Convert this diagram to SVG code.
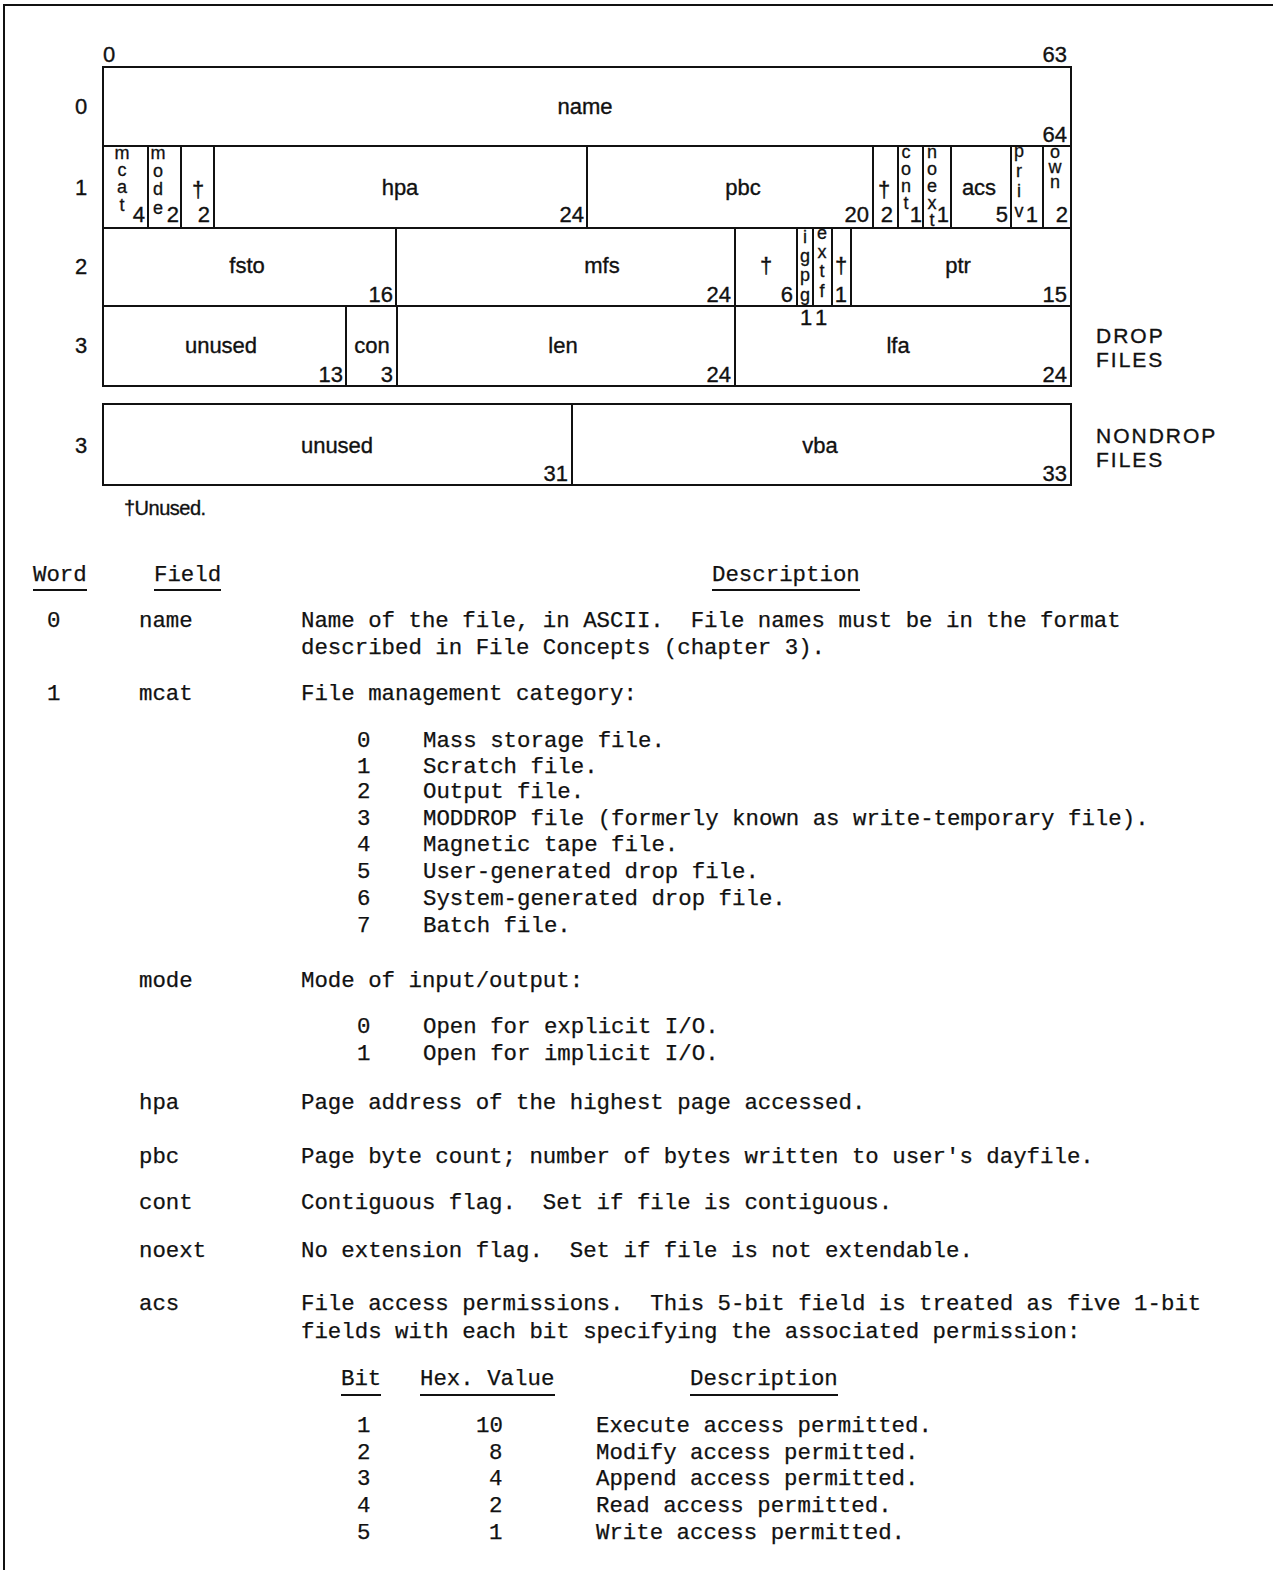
<svg xmlns="http://www.w3.org/2000/svg" width="1273" height="1570" viewBox="0 0 1273 1570">
<style>
.bx{fill:none;stroke:#111;stroke-width:2}
.ln{stroke:#111;stroke-width:2}
.s{font-family:"Liberation Sans",Arial,sans-serif;font-size:22px;fill:#111;stroke:#111;stroke-width:0.35}
.c{text-anchor:middle}
.e{text-anchor:end}
.vt{font-family:"Liberation Sans",Arial,sans-serif;font-size:18px;fill:#111;stroke:#111;stroke-width:0.3;writing-mode:vertical-rl;text-orientation:upright}
.m{font-family:"Liberation Mono","Courier New",monospace;font-size:22.4px;fill:#111;stroke:#111;stroke-width:0.25;white-space:pre}
.side{font-family:"Liberation Sans",Arial,sans-serif;font-size:21px;letter-spacing:2px;fill:#111;stroke:#111;stroke-width:0.35}
</style>
<rect width="1273" height="1570" fill="#fff"/>
<path class="ln" d="M1273 5H4V1570" fill="none"/>

<g id="bit-labels">
<text class="s" x="103" y="62">0</text>
<text class="s e" x="1067" y="62">63</text>
<text class="s" x="75" y="114">0</text>
<text class="s" x="75" y="195">1</text>
<text class="s" x="75" y="274">2</text>
<text class="s" x="75" y="353">3</text>
<text class="s" x="75" y="453">3</text>
</g>

<g id="word0">
<rect class="bx" x="103" y="67" width="968" height="79"/>
<text class="s c" x="585" y="114">name</text>
<text class="s e" x="1067" y="142">64</text>
</g>

<g id="word1">
<g id="f-mcat"><rect class="bx" x="103" y="146" width="45" height="82"/>
<text class="vt" x="122" y="142.7" style="letter-spacing:-2.7px">mcat</text>
<text class="s e" x="145" y="222">4</text></g>
<g id="f-mode"><rect class="bx" x="148" y="146" width="33" height="82"/>
<text class="vt" x="158" y="142.7" style="letter-spacing:-1.7px">mode</text>
<text class="s e" x="179" y="222">2</text></g>
<g id="f-u1"><rect class="bx" x="181" y="146" width="33" height="82"/>
<text class="s c" x="198" y="197">†</text><text class="s e" x="210" y="222">2</text></g>
<g id="f-hpa"><rect class="bx" x="214" y="146" width="373" height="82"/>
<text class="s c" x="400" y="195">hpa</text><text class="s e" x="584" y="222">24</text></g>
<g id="f-pbc"><rect class="bx" x="587" y="146" width="286" height="82"/>
<text class="s c" x="743" y="195">pbc</text><text class="s e" x="869" y="222">20</text></g>
<g id="f-u2"><rect class="bx" x="873" y="146" width="25" height="82"/>
<text class="s c" x="884" y="197">†</text><text class="s e" x="893" y="222">2</text></g>
<g id="f-cont"><rect class="bx" x="898" y="146" width="25" height="82"/>
<text class="vt" x="906" y="141.7" style="letter-spacing:-3px">cont</text>
<text class="s e" x="922" y="222">1</text></g>
<g id="f-noext"><rect class="bx" x="923" y="146" width="28" height="82"/>
<text class="vt" x="932" y="141.7" style="letter-spacing:-3px">noext</text>
<text class="s e" x="949" y="222">1</text></g>
<g id="f-acs"><rect class="bx" x="951" y="146" width="60" height="82"/>
<text class="s c" x="979" y="195">acs</text><text class="s e" x="1008" y="222">5</text></g>
<g id="f-priv"><rect class="bx" x="1011" y="146" width="32" height="82"/>
<text class="vt" x="1019" y="140.7" style="letter-spacing:0px">priv</text>
<text class="s e" x="1038" y="222">1</text></g>
<g id="f-own"><rect class="bx" x="1043" y="146" width="28" height="82"/>
<text class="vt" x="1055" y="141.7" style="letter-spacing:-5px">own</text>
<text class="s e" x="1068" y="222">2</text></g>
</g>

<g id="word2">
<g id="f-fsto"><rect class="bx" x="103" y="228" width="293" height="78"/>
<text class="s c" x="247" y="273">fsto</text><text class="s e" x="393" y="302">16</text></g>
<g id="f-mfs"><rect class="bx" x="396" y="228" width="339" height="78"/>
<text class="s c" x="602" y="273">mfs</text><text class="s e" x="731" y="302">24</text></g>
<g id="f-u3"><rect class="bx" x="735" y="228" width="62" height="78"/>
<text class="s c" x="766" y="273">†</text><text class="s e" x="793" y="302">6</text></g>
<g id="f-igpg"><rect class="bx" x="797" y="228" width="16" height="78"/>
<text class="vt" x="805" y="226.7" style="letter-spacing:-0.7px">igpg</text>
<text class="s c" x="806" y="325">1</text></g>
<g id="f-ext"><rect class="bx" x="813" y="228" width="19" height="78"/>
<text class="vt" x="822" y="222.7" style="letter-spacing:-0.7px">extf</text>
<text class="s c" x="821" y="325">1</text></g>
<g id="f-u4"><rect class="bx" x="832" y="228" width="19" height="78"/>
<text class="s c" x="841" y="273">†</text><text class="s e" x="847" y="302">1</text></g>
<g id="f-ptr"><rect class="bx" x="851" y="228" width="220" height="78"/>
<text class="s c" x="958" y="273">ptr</text><text class="s e" x="1067" y="302">15</text></g>
</g>

<g id="word3-drop">
<g id="f-unused"><rect class="bx" x="103" y="306" width="243" height="80"/>
<text class="s c" x="221" y="353">unused</text><text class="s e" x="343" y="382">13</text></g>
<g id="f-con"><rect class="bx" x="346" y="306" width="51" height="80"/>
<text class="s c" x="372" y="353">con</text><text class="s e" x="393" y="382">3</text></g>
<g id="f-len"><rect class="bx" x="397" y="306" width="338" height="80"/>
<text class="s c" x="563" y="353">len</text><text class="s e" x="731" y="382">24</text></g>
<g id="f-lfa"><rect class="bx" x="735" y="306" width="336" height="80"/>
<text class="s c" x="898" y="353">lfa</text><text class="s e" x="1067" y="382">24</text></g>
<text class="side" x="1096" y="343">DROP</text>
<text class="side" x="1096" y="367">FILES</text>
</g>

<g id="word3-nondrop">
<g id="f-unused2"><rect class="bx" x="103" y="404" width="469" height="81"/>
<text class="s c" x="337" y="453">unused</text><text class="s e" x="568" y="481">31</text></g>
<g id="f-vba"><rect class="bx" x="572" y="404" width="499" height="81"/>
<text class="s c" x="820" y="453">vba</text><text class="s e" x="1067" y="481">33</text></g>
<text class="side" x="1096" y="443">NONDROP</text>
<text class="side" x="1096" y="467">FILES</text>
</g>

<text class="s" x="124" y="515" style="font-size:20px;letter-spacing:-0.5px">†Unused.</text>

<g id="connectors"></g>

<g id="table">
<text class="m" x="33" y="581">Word</text>
<text class="m" x="154" y="581">Field</text>
<text class="m" x="712" y="581">Description</text>
<path class="ln" d="M33 590H87M154 590H221M712 590H860"/>

<text class="m" x="47" y="627">0</text>
<text class="m" x="139" y="627">name</text>
<text class="m" x="301" y="627">Name of the file, in ASCII.  File names must be in the format</text>
<text class="m" x="301" y="654">described in File Concepts (chapter 3).</text>

<text class="m" x="47" y="700">1</text>
<text class="m" x="139" y="700">mcat</text>
<text class="m" x="301" y="700">File management category:</text>
<text class="m" x="357" y="747">0</text><text class="m" x="423" y="747">Mass storage file.</text>
<text class="m" x="357" y="773">1</text><text class="m" x="423" y="773">Scratch file.</text>
<text class="m" x="357" y="798">2</text><text class="m" x="423" y="798">Output file.</text>
<text class="m" x="357" y="825">3</text><text class="m" x="423" y="825">MODDROP file (formerly known as write-temporary file).</text>
<text class="m" x="357" y="851">4</text><text class="m" x="423" y="851">Magnetic tape file.</text>
<text class="m" x="357" y="878">5</text><text class="m" x="423" y="878">User-generated drop file.</text>
<text class="m" x="357" y="905">6</text><text class="m" x="423" y="905">System-generated drop file.</text>
<text class="m" x="357" y="932">7</text><text class="m" x="423" y="932">Batch file.</text>

<text class="m" x="139" y="987">mode</text>
<text class="m" x="301" y="987">Mode of input/output:</text>
<text class="m" x="357" y="1033">0</text><text class="m" x="423" y="1033">Open for explicit I/O.</text>
<text class="m" x="357" y="1060">1</text><text class="m" x="423" y="1060">Open for implicit I/O.</text>

<text class="m" x="139" y="1109">hpa</text>
<text class="m" x="301" y="1109">Page address of the highest page accessed.</text>
<text class="m" x="139" y="1163">pbc</text>
<text class="m" x="301" y="1163">Page byte count; number of bytes written to user's dayfile.</text>
<text class="m" x="139" y="1209">cont</text>
<text class="m" x="301" y="1209">Contiguous flag.  Set if file is contiguous.</text>
<text class="m" x="139" y="1257">noext</text>
<text class="m" x="301" y="1257">No extension flag.  Set if file is not extendable.</text>
<text class="m" x="139" y="1310">acs</text>
<text class="m" x="301" y="1310">File access permissions.  This 5-bit field is treated as five 1-bit</text>
<text class="m" x="301" y="1338">fields with each bit specifying the associated permission:</text>

<text class="m" x="341" y="1385">Bit</text>
<text class="m" x="420" y="1385">Hex. Value</text>
<text class="m" x="690" y="1385">Description</text>
<path class="ln" d="M341 1395H381M420 1395H555M690 1395H838"/>
<text class="m" x="357" y="1432">1</text><text class="m" x="476" y="1432">10</text><text class="m" x="596" y="1432">Execute access permitted.</text>
<text class="m" x="357" y="1459">2</text><text class="m" x="489" y="1459">8</text><text class="m" x="596" y="1459">Modify access permitted.</text>
<text class="m" x="357" y="1485">3</text><text class="m" x="489" y="1485">4</text><text class="m" x="596" y="1485">Append access permitted.</text>
<text class="m" x="357" y="1512">4</text><text class="m" x="489" y="1512">2</text><text class="m" x="596" y="1512">Read access permitted.</text>
<text class="m" x="357" y="1539">5</text><text class="m" x="489" y="1539">1</text><text class="m" x="596" y="1539">Write access permitted.</text>
</g>
</svg>
